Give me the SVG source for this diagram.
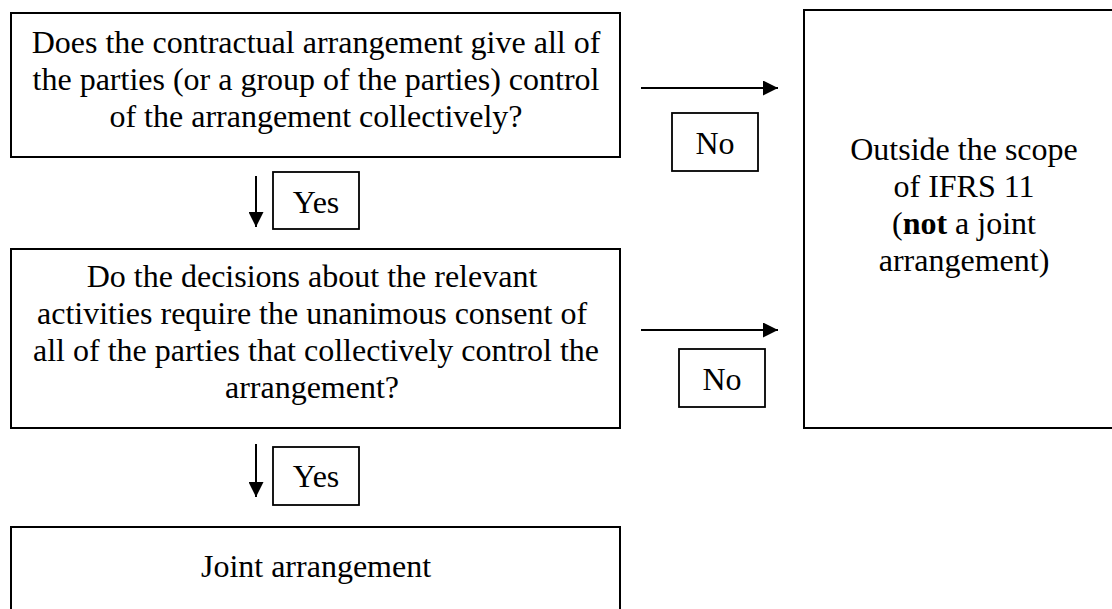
<svg xmlns="http://www.w3.org/2000/svg" width="1112" height="609" viewBox="0 0 1112 609">
<style>
.box{fill:#fff;stroke:#000;stroke-width:2}
.lbl{fill:#fff;stroke:#000;stroke-width:1.8}
.t{font-family:"Liberation Serif","Times New Roman",serif;font-size:32px;fill:#000;text-anchor:middle}
.c{stroke:#000;stroke-width:2;fill:none}
</style>
<defs>
<marker id="ah" viewBox="0 0 10 10" refX="10" refY="5" markerWidth="7.5" markerHeight="7.5" orient="auto" markerUnits="strokeWidth">
<path d="M0,0 L10,5 L0,10 Z" fill="#000"/>
</marker>
</defs>
<rect width="1112" height="609" fill="#fff"/>
<g id="q1">
<rect class="box" x="11" y="13" width="609" height="144"/>
<text class="t" x="316" y="53">Does the contractual arrangement give all of</text>
<text class="t" x="316" y="90">the parties (or a group of the parties) control</text>
<text class="t" x="316" y="127">of the arrangement collectively?</text>
</g>
<g id="q2">
<rect class="box" x="11" y="249" width="609" height="179"/>
<text class="t" x="312" y="287">Do the decisions about the relevant</text>
<text class="t" x="312" y="324">activities require the unanimous consent of</text>
<text class="t" x="316" y="361">all of the parties that collectively control the</text>
<text class="t" x="312" y="398">arrangement?</text>
</g>
<g id="joint">
<rect class="box" x="11" y="527" width="609" height="120"/>
<text class="t" x="316" y="577">Joint arrangement</text>
</g>
<g id="outside">
<rect class="box" x="804" y="10" width="330" height="418"/>
<text class="t" x="964" y="160">Outside the scope</text>
<text class="t" x="964" y="197">of IFRS 11</text>
<text class="t" x="964" y="234">(<tspan font-weight="bold">not</tspan> a joint</text>
<text class="t" x="964" y="271">arrangement)</text>
</g>
<g id="yes1">
<rect class="lbl" x="273" y="172" width="86" height="57"/>
<text class="t" x="316" y="213">Yes</text>
</g>
<g id="yes2">
<rect class="lbl" x="273" y="447" width="86" height="58"/>
<text class="t" x="316" y="487">Yes</text>
</g>
<g id="no1">
<rect class="lbl" x="672" y="113" width="86" height="58"/>
<text class="t" x="715" y="154">No</text>
</g>
<g id="no2">
<rect class="lbl" x="679" y="349" width="86" height="58"/>
<text class="t" x="722" y="390">No</text>
</g>
<g id="connectors">
<line class="c" x1="256" y1="176" x2="256" y2="227" marker-end="url(#ah)"/>
<line class="c" x1="256" y1="444" x2="256" y2="497" marker-end="url(#ah)"/>
<line class="c" x1="641" y1="88" x2="778" y2="88" marker-end="url(#ah)"/>
<line class="c" x1="641" y1="330" x2="778" y2="330" marker-end="url(#ah)"/>
</g>
</svg>
